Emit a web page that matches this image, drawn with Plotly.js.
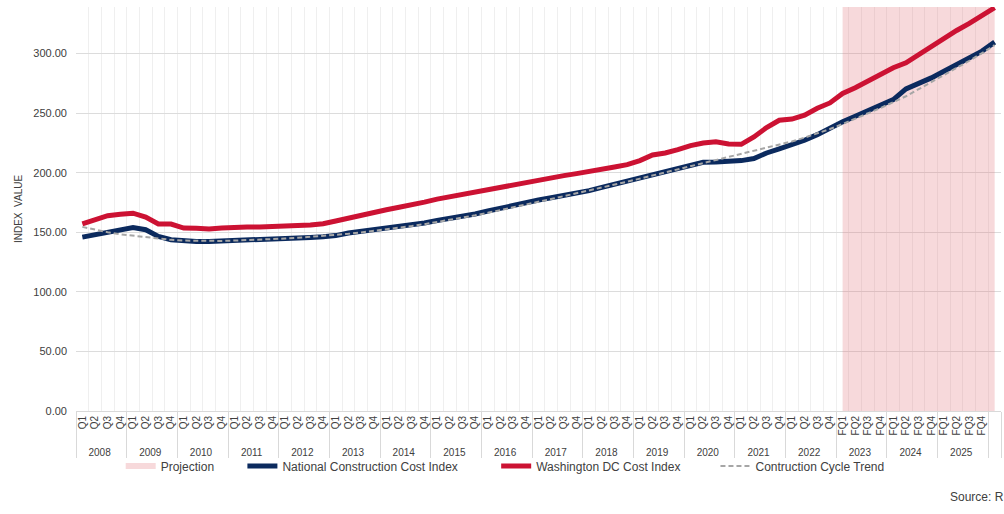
<!DOCTYPE html>
<html>
<head>
<meta charset="utf-8">
<script src="https://cdn.plot.ly/plotly-3.0.1.min.js"></script>
<style>html,body{margin:0;padding:0;background:#fff}#chart{width:1004px;height:514px}</style>
</head>
<body>
<div id="chart"></div>
<script>
// ---- data ----
const years = ['2008','2009','2010','2011','2012','2013','2014','2015','2016','2017','2018','2019','2020','2021','2022','2023','2024','2025'];
const firstProjectionYear = '2023';
const quarterNames = ['Q1','Q2','Q3','Q4'];
const projQuarterNames = ['FQ1','FQ2','FQ3','FQ4'];
const blankSlot = ['\u00A0', '\u00A0'];   // empty category after 2025

const dcIndex = [157,160.5,163.9,165,166,162.7,157,156.9,153.5,153.3,152.7,153.6,154.3,154.3,154.5,155.2,155.7,155.7,156,157.1,
  159.4,161.9,164.7,166.7,168.9,170.9,172.8,175.3,177.8,179.8,181.8,183.8,186,188.2,190.2,192.4,194.1,196.4,197.5,199.2,
  200.8,202.5,204.8,206.7,210.1,214.8,216.5,219.3,222.7,224.9,226,224.1,223.8,230,237.8,244,245,248.3,254,258.5,
  266.5,271.2,276.7,281.5,288,292.2,299.2,306.2,313.2,319.3,325.2,331.9,338.4];
const nationalIndex = [145.9,147.9,150.1,152.1,154,152.1,146.5,143.7,142.6,142.3,142.3,142.6,143,143.3,143.7,144.3,144.8,145.4,145.6,146.2,
  147.2,149.3,150.7,151.8,152.9,154,155.7,157.7,159.9,161.6,163.3,165.3,167.8,170.3,172.5,174.8,177,179,180.7,182.6,
  184.9,187.6,190.2,192.7,195.8,198.6,201.1,203.9,206.5,208.7,209,209.2,210.1,211.8,216.5,219.9,223.5,227.2,231.9,237.5,
  242.6,247.3,251.8,256.6,261.3,270.3,274.5,279.5,285.1,290.8,296.4,302,309.5];
const cycleTrend = [154.5,152,150,148.3,147,145.6,144.5,143.6,143,142.7,142.6,142.7,143,143.3,143.7,144.2,144.7,145.3,146,146.8,
  147.7,148.7,149.8,151,152.3,153.7,155.2,156.8,158.5,160.3,162.2,164.2,166.3,168.5,170.8,173.1,175.5,177.9,180.3,182.6,
  185,187.4,189.9,192.4,195,197.6,200.2,202.8,205.5,208.2,210.6,213,215.5,218,220.6,223.3,226.2,229.4,232.8,236.6,
  240.8,245.2,249.7,254.3,259.1,264.1,270,275.8,281.7,287.7,293.9,300.3,307];
const axisTop = 339;            // value axis maximum (projection band reaches it)

// ---- build category axis ----
const xYear = [], xQuarter = [];
years.forEach(y => {
  const names = (y >= firstProjectionYear) ? projQuarterNames : quarterNames;
  names.forEach(q => { xYear.push(y); xQuarter.push(q); });
});
xYear.push(blankSlot[0]); xQuarter.push(blankSlot[1]);

const projStart = xYear.indexOf(firstProjectionYear);
const projY = xYear.map((y, i) => i >= projStart ? axisTop : null);

const font = 'Liberation Sans, Arial, sans-serif';
const pad = n => '\u00A0'.repeat(n);
const traces = [
  {name:'Projection' + pad(7), x:[xYear,xQuarter], y:projY, type:'scatter', mode:'none', fill:'tozeroy',
   connectgaps:false, fillcolor:'rgba(225,120,125,0.28)', hoverinfo:'skip'},
  {name:'National Construction Cost Index' + pad(10), x:[xYear,xQuarter], y:nationalIndex, type:'scatter', mode:'lines',
   line:{color:'#0B2A5E', width:5}},
  {name:'Washington DC Cost Index' + pad(9), x:[xYear,xQuarter], y:dcIndex, type:'scatter', mode:'lines',
   line:{color:'#CC1233', width:5}},
  {name:'Contruction Cycle Trend', x:[xYear,xQuarter], y:cycleTrend, type:'scatter', mode:'lines',
   line:{color:'#A6A6A6', width:2, dash:'5px,3px'}}
];

const layout = {
  width:1004, height:514,
  margin:{l:76, r:3, t:7, b:103},
  paper_bgcolor:'#fff', plot_bgcolor:'#fff',
  font:{family:font, color:'#404040', size:11},
  showlegend:true,
  legend:{orientation:'h', x:0.464, xanchor:'center', y:-0.136, yanchor:'middle',
          font:{size:12, color:'#404040', family:font}, bgcolor:'rgba(0,0,0,0)'},
  xaxis:{type:'multicategory', range:[-0.5, xYear.length - 0.5], tickangle:-90,
         tickfont:{size:10, color:'#404040', family:font},
         showgrid:true, gridcolor:'#EFEFEF', gridwidth:1, showline:true, linecolor:'#D9D9D9', linewidth:1,
         showdividers:true, dividercolor:'#D9D9D9', dividerwidth:1, ticks:'', fixedrange:true},
  yaxis:{range:[0, axisTop], dtick:50, tick0:0, tickformat:'.2f', showgrid:true, gridcolor:'#DCDCDC', gridwidth:1,
         zeroline:false, ticks:'', ticklabelstandoff:8, tickfont:{size:11, color:'#404040', family:font},
         title:{text:'INDEX  VALUE', font:{size:10, color:'#404040', family:font}, standoff:8}, fixedrange:true},
  annotations:[{text:'Source: R', xref:'paper', yref:'paper', x:0.9427, y:-0.213, xanchor:'left', yanchor:'middle',
                showarrow:false, font:{size:12, color:'#404040', family:font}}]
};

Plotly.newPlot('chart', traces, layout, {displayModeBar:false, staticPlot:true});
</script>
</body>
</html>
